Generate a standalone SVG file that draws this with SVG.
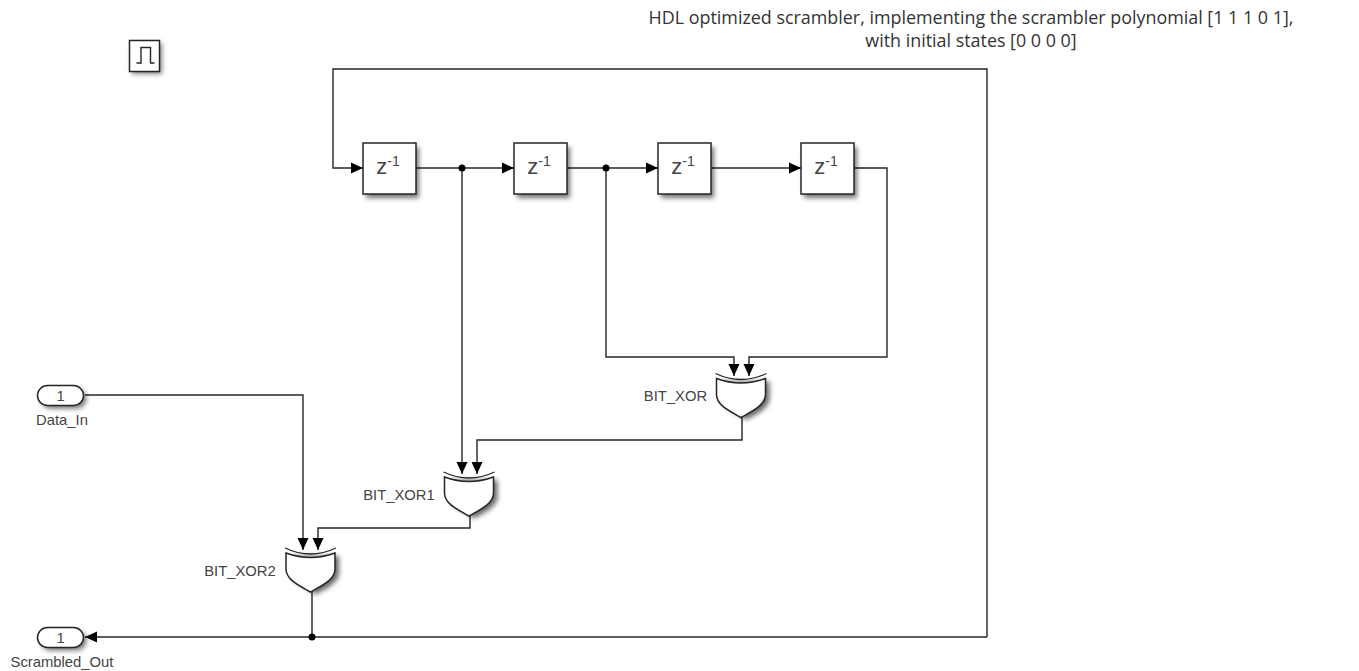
<svg xmlns="http://www.w3.org/2000/svg" width="1359" height="671" viewBox="0 0 1359 671">
<style>
.b{fill:#fff;stroke:#262626;stroke-width:1.5}
.w{fill:none;stroke:#262626;stroke-width:1.4}
.a{fill:#000}
.t{font-family:"Liberation Sans",Arial,sans-serif;font-size:14.8px;fill:#444;text-anchor:middle}
.z{font-family:"Liberation Sans",Arial,sans-serif;font-size:22px;fill:#444;text-anchor:middle}
.n{font-family:"Open Sans",sans-serif;font-size:17.9px;fill:#333;text-anchor:middle}
</style>
<defs>
<filter id="s" x="-30%" y="-30%" width="170%" height="170%"><feGaussianBlur stdDeviation="2.5"/></filter>
<marker id="m" markerUnits="userSpaceOnUse" markerWidth="12" markerHeight="12" refX="12" refY="6" orient="auto"><path class="a" d="M0,0.5 L12,6 L0,11.5 Z"/></marker>
<g id="gate">
<path d="M4,8 V25 C4,35 38,48 28,47 C38,42 53,35 53,25 V8 Z" fill="#000" opacity=".6" filter="url(#s)"/>
<path class="b" d="M0,5 Q24.500,14 49,5 V21 C49,32 35,38 24.500,44 C14,38 0,32 0,21 Z"/>
<path d="M-1,0 Q24.500,12 50,0" fill="none" stroke="#262626" stroke-width="1.3"/>
</g>
<g id="delay">
<rect x="3" y="4" width="53" height="51" fill="#000" opacity=".55" filter="url(#s)"/>
<rect class="b" width="53" height="51"/>
<text class="z" x="25" y="31">z<tspan font-size="14" dy="-8">-1</tspan></text>
</g>
<g id="port">
<rect x="3" y="3" width="46" height="20" rx="10" fill="#000" opacity=".55" filter="url(#s)"/>
<rect class="b" width="46" height="20" rx="10"/>
</g>
</defs>
<g id="connectors">
<path class="w" d="M416,168 H514" marker-end="url(#m)"/>
<path class="w" d="M567,168 H658" marker-end="url(#m)"/>
<path class="w" d="M711,168 H801" marker-end="url(#m)"/>
<path class="w" d="M462,168 V474" marker-end="url(#m)"/>
<path class="w" d="M606,168 V357 H734 V376" marker-end="url(#m)"/>
<path class="w" d="M854,168 H887 V357 H749 V376" marker-end="url(#m)"/>
<path class="w" d="M742,417 V440 H477 V474" marker-end="url(#m)"/>
<path class="w" d="M470,516 V528 H318 V550" marker-end="url(#m)"/>
<path class="w" d="M85,395 H303 V550" marker-end="url(#m)"/>
<path class="w" d="M312,591 V637"/>
<path class="w" d="M987,637 H85" marker-end="url(#m)"/>
<path class="w" d="M987,637 V69 H333 V168 H363" marker-end="url(#m)"/>
<circle class="a" cx="462" cy="168" r="3.500"/>
<circle class="a" cx="606" cy="168" r="3.500"/>
<circle class="a" cx="312" cy="637" r="3.500"/>
</g>
<g id="pulse">
<rect x="132" y="43" width="30" height="31" fill="#000" opacity=".5" filter="url(#s)"/>
<rect class="b" x="129.500" y="40.500" width="30" height="31"/>
<path class="w" d="M136.500,63 H141 V47.500 H150.500 V63 H154.500"/>
</g>
<g id="note">
<text class="n" x="971" y="24">HDL optimized scrambler, implementing the scrambler polynomial [1 1 1 0 1],</text>
<text class="n" x="971" y="47">with initial states [0 0 0 0]</text>
</g>
<use id="Delay" href="#delay" x="363" y="143"/>
<use id="Delay1" href="#delay" x="514" y="143"/>
<use id="Delay2" href="#delay" x="658" y="143"/>
<use id="Delay3" href="#delay" x="801" y="143"/>
<g id="BIT_XOR"><use href="#gate" x="716.500" y="373.500"/><text class="t" x="675.500" y="401">BIT_XOR</text></g>
<g id="BIT_XOR1"><use href="#gate" x="444.500" y="472"/><text class="t" x="399" y="500">BIT_XOR1</text></g>
<g id="BIT_XOR2"><use href="#gate" x="286" y="548"/><text class="t" x="240" y="576">BIT_XOR2</text></g>
<g id="Data_In"><use href="#port" x="37.500" y="385.500"/><text class="t" x="60.500" y="400.500">1</text><text class="t" x="62" y="425">Data_In</text></g>
<g id="Scrambled_Out"><use href="#port" x="37.500" y="627.500"/><text class="t" x="60.500" y="642.500">1</text><text class="t" x="62" y="667">Scrambled_Out</text></g>
</svg>
